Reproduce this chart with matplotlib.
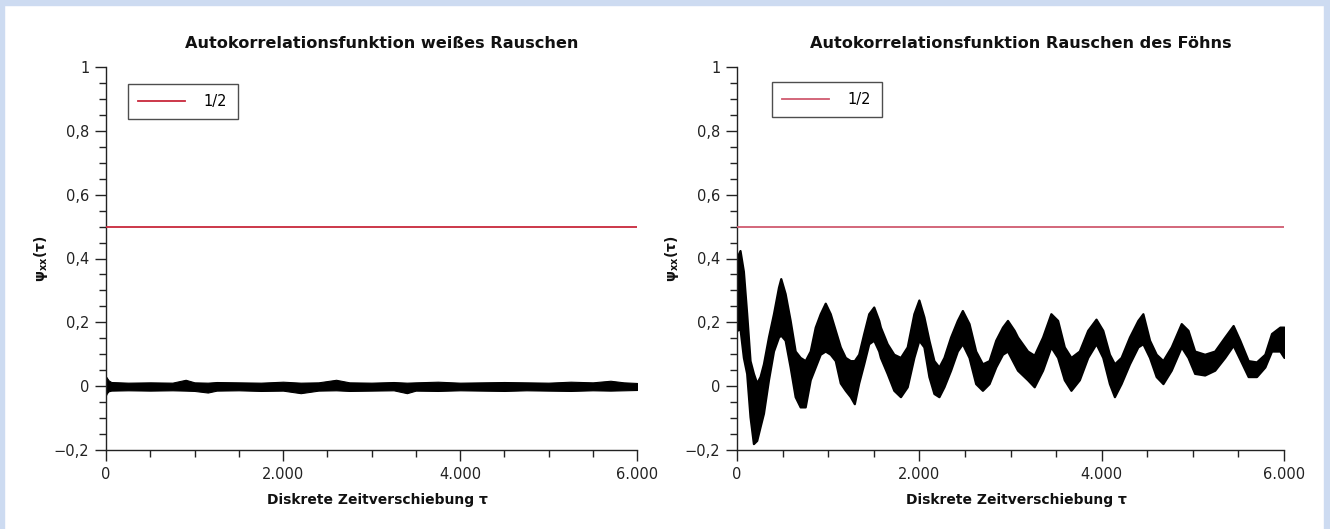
import matplotlib
matplotlib.use("Agg")
import matplotlib.pyplot as plt
from matplotlib.patches import Rectangle
from matplotlib.ticker import MultipleLocator, FuncFormatter

# ---------------- data ----------------
half_level = 0.5
legend_label = "1/2"

titles = ["Autokorrelationsfunktion weißes Rauschen",
          "Autokorrelationsfunktion Rauschen des Föhns"]
xlabel = "Diskrete Zeitverschiebung τ"
ylabel = r"$\mathbf{ψ_{xx}(τ)}$"

# white noise ACF: envelope of the dense noise band
white_tau = [0, 10, 30, 60, 250, 500, 750, 900, 1000, 1150, 1250, 1500, 1750,
             2000, 2200, 2400, 2600, 2750, 3000, 3250, 3400, 3500, 3750, 4000,
             4250, 4500, 4750, 5000, 5250, 5500, 5700, 5850, 6000]
white_upper = [0.03, 0.026, 0.018, 0.013, 0.011, 0.012, 0.011, 0.02, 0.012, 0.011,
               0.013, 0.012, 0.011, 0.014, 0.011, 0.012, 0.02, 0.012, 0.011, 0.013,
               0.011, 0.012, 0.014, 0.011, 0.012, 0.013, 0.012, 0.011, 0.014, 0.012,
               0.017, 0.012, 0.01]
white_lower = [-0.028, -0.022, -0.016, -0.014, -0.013, -0.014, -0.013, -0.014, -0.015,
               -0.02, -0.014, -0.013, -0.015, -0.014, -0.022, -0.014, -0.013, -0.015,
               -0.014, -0.013, -0.022, -0.014, -0.015, -0.013, -0.014, -0.015, -0.013,
               -0.014, -0.015, -0.013, -0.014, -0.013, -0.012]

# hair-dryer noise ACF: envelope of the dense band
foehn_tau = [0, 33, 70, 106, 143, 180, 216, 253, 290, 345, 400, 455, 480, 528,
             583, 638, 693, 748, 803, 858, 913, 968, 1023, 1078, 1133, 1188,
             1243, 1287, 1335, 1390, 1445, 1500, 1555, 1573, 1647, 1720, 1793,
             1867, 1940, 1995, 2050, 2105, 2160, 2215, 2270, 2343, 2417, 2472,
             2545, 2618, 2692, 2765, 2838, 2912, 2967, 3040, 3077, 3187, 3260,
             3352, 3443, 3517, 3590, 3663, 3755, 3847, 3938, 4012, 4085, 4140,
             4213, 4305, 4397, 4452, 4525, 4598, 4672, 4763, 4873, 4947, 5020,
             5130, 5240, 5350, 5442, 5515, 5607, 5698, 5790, 5863, 5955, 6000]
foehn_upper = [0.404, 0.425, 0.36, 0.228, 0.08, 0.04, 0.01, 0.03, 0.07, 0.154,
               0.227, 0.31, 0.337, 0.29, 0.206, 0.11, 0.09, 0.08, 0.11, 0.185,
               0.227, 0.26, 0.227, 0.175, 0.123, 0.09, 0.08, 0.08, 0.10, 0.165,
               0.227, 0.248, 0.206, 0.185, 0.133, 0.10, 0.09, 0.123, 0.227, 0.27,
               0.217, 0.144, 0.08, 0.06, 0.09, 0.154, 0.206, 0.237, 0.196, 0.11,
               0.07, 0.08, 0.144, 0.185, 0.206, 0.175, 0.154, 0.11, 0.097, 0.154,
               0.227, 0.206, 0.123, 0.09, 0.11, 0.175, 0.21, 0.175, 0.10, 0.07,
               0.09, 0.154, 0.206, 0.227, 0.144, 0.10, 0.08, 0.123, 0.196, 0.175,
               0.11, 0.10, 0.11, 0.154, 0.19, 0.144, 0.08, 0.076, 0.10, 0.165,
               0.185, 0.185]
foehn_lower = [0.175, 0.18, 0.09, 0.04, -0.096, -0.18, -0.17, -0.127, -0.085, 0.02,
               0.11, 0.154, 0.16, 0.144, 0.06, -0.033, -0.065, -0.065, 0.02, 0.06,
               0.10, 0.11, 0.10, 0.08, 0.01, -0.013, -0.033, -0.055, 0.01, 0.07,
               0.133, 0.144, 0.11, 0.09, 0.04, -0.013, -0.033, -0.002, 0.09, 0.144,
               0.123, 0.03, -0.023, -0.033, -0.002, 0.05, 0.11, 0.133, 0.09, 0.008,
               -0.013, 0.008, 0.06, 0.10, 0.11, 0.07, 0.05, 0.02, -0.002, 0.05,
               0.123, 0.09, 0.02, -0.013, 0.02, 0.09, 0.133, 0.09, 0.008, -0.033,
               0.008, 0.07, 0.123, 0.133, 0.09, 0.03, 0.008, 0.05, 0.123, 0.09,
               0.04, 0.035, 0.05, 0.09, 0.128, 0.085, 0.03, 0.03, 0.06, 0.11,
               0.11, 0.09]

x_range = (0, 6000)
y_range = (-0.2, 1.0)

# ---------------- figure ----------------
W, H = 1330, 529
fig = plt.figure(figsize=(W / 100, H / 100), dpi=100)
fig.patch.set_facecolor("white")

border = "#cddbf1"
fig.patches.append(Rectangle((0, 0), 4 / W, 1, transform=fig.transFigure,
                             color=border, zorder=0))
fig.patches.append(Rectangle((0, 1 - 5 / H), 1, 5 / H, transform=fig.transFigure,
                             color=border, zorder=0))
fig.patches.append(Rectangle((1 - 6 / W, 0), 6 / W, 1, transform=fig.transFigure,
                             color=border, zorder=0))

font = "DejaVu Sans"
plt.rcParams["font.family"] = [font]
plt.rcParams["mathtext.fontset"] = "dejavusans"

y_top, y_bot = 67, 450
panels = [
    dict(x0=106, x1=637, tau=white_tau, up=white_upper, lo=white_lower,
         red="#c8283c", leg=(128, 84)),
    dict(x0=737, x1=1284, tau=foehn_tau, up=foehn_upper, lo=foehn_lower,
         red="#d05a70", leg=(772, 82)),
]


def xfmt(v, pos):
    return f"{int(round(v)):,}".replace(",", ".")


def yfmt(v, pos):
    s = f"{v:.1f}".replace(".", ",")
    if abs(v) < 1e-9:
        return "0"
    if abs(v - 1) < 1e-9:
        return "1"
    return s.replace("-", "\u2212")


for i, p in enumerate(panels):
    width_px = p["x1"] - p["x0"]
    ax = fig.add_axes([p["x0"] / W, 1 - y_bot / H, width_px / W,
                       (y_bot - y_top) / H])
    ax.fill_between(p["tau"], p["lo"], p["up"], color="black",
                    linewidth=1.6 if i == 1 else 0.8,
                    edgecolor="black", zorder=2)
    ax.plot(x_range, [half_level, half_level], color=p["red"], linewidth=1.3,
            label=legend_label, zorder=3)
    ax.set_xlim(*x_range)
    ax.set_ylim(*y_range)
    for s in ("top", "right"):
        ax.spines[s].set_visible(False)
    for s in ("left", "bottom"):
        ax.spines[s].set_linewidth(1.0)
        ax.spines[s].set_color("#222222")
    ax.xaxis.set_major_locator(MultipleLocator(2000))
    ax.xaxis.set_minor_locator(MultipleLocator(500))
    ax.yaxis.set_major_locator(MultipleLocator(0.2))
    ax.yaxis.set_minor_locator(MultipleLocator(0.05))
    ax.xaxis.set_major_formatter(FuncFormatter(xfmt))
    ax.yaxis.set_major_formatter(FuncFormatter(yfmt))
    ax.tick_params(which="major", direction="out", length=8, width=1.0,
                   labelsize=10.5, colors="#222222", pad=4)
    ax.tick_params(which="minor", direction="out", length=5, width=1.0,
                   colors="#222222")
    ax.set_title(titles[i], fontsize=11.6, fontweight="bold", pad=14,
                 color="#111111", x=0.5 + 10 / width_px)
    ax.set_xlabel(xlabel, fontsize=10, fontweight="bold", labelpad=6,
                  color="#111111")
    ax.xaxis.set_label_coords(0.5 + 6 / width_px, -0.113)
    ax.set_ylabel(ylabel, fontsize=10, labelpad=3, color="#111111")
    lx, ly = p["leg"]
    leg = ax.legend(loc="upper left",
                    bbox_to_anchor=((lx - p["x0"]) / width_px,
                                    (y_bot - ly) / (y_bot - y_top)),
                    borderaxespad=0, frameon=True, fancybox=False,
                    fontsize=10.5, handlelength=3.2, handletextpad=1.3,
                    borderpad=0.7)
    leg.get_frame().set_edgecolor("#222222")
    leg.get_frame().set_linewidth(1.0)

fig.savefig("out.png", dpi=100, facecolor="white")
